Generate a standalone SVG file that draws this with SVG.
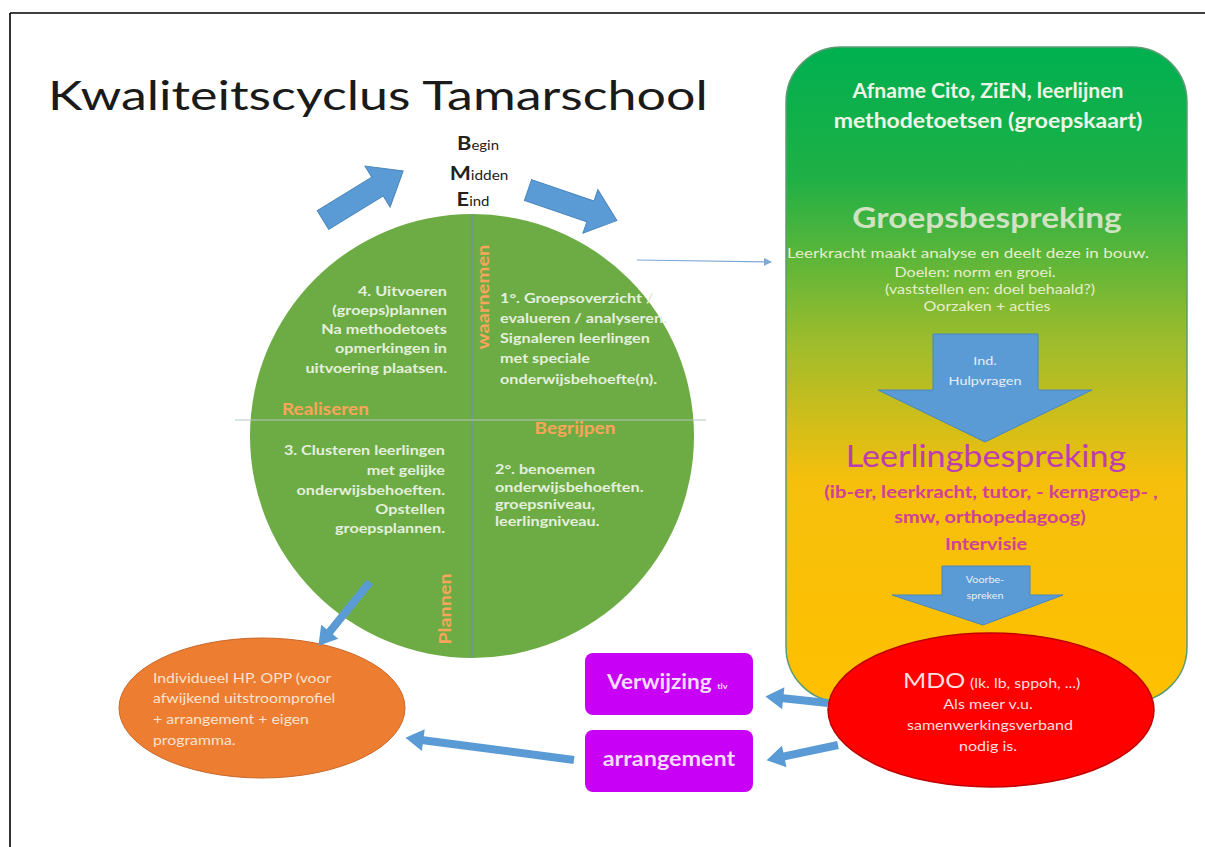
<svg xmlns="http://www.w3.org/2000/svg" width="1205" height="847" viewBox="0 0 1205 847">
<style>
text{font-family:Lato,"Open Sans","Liberation Sans",sans-serif}
.title{font-size:40px;fill:#1a1a1a}
.ct{font-size:13.5px;font-weight:700;fill:#e4f0dc}
.ql{font-size:16.5px;font-weight:700;fill:#f9a65a}
.blk{fill:#5b9bd5;stroke:#4a86bd;stroke-width:1}
.ar{fill:#5b9bd5}
.mid{text-anchor:middle}
.end{text-anchor:end}
.wh{fill:#eef5e6}
.pk{fill:#d0409a;font-size:17px;font-weight:700;text-anchor:middle}
.gb{fill:#e6efcc;font-size:14px;text-anchor:middle}
.mdo{fill:#ffdede;font-size:14px;text-anchor:middle}
.or{fill:#fbe3cf;font-size:14px}
.bt{fill:#e8eef8;text-anchor:middle}
</style>
<defs>
<linearGradient id="g1" x1="0" y1="0" x2="0" y2="1">
<stop offset="0" stop-color="#00b050"/>
<stop offset="0.2" stop-color="#1fb046"/>
<stop offset="0.45" stop-color="#9dbc2c"/>
<stop offset="0.66" stop-color="#f5bf0c"/>
<stop offset="1" stop-color="#ffc000"/>
</linearGradient>
<marker id="ah" markerWidth="8" markerHeight="8" refX="7" refY="4" orient="auto" markerUnits="userSpaceOnUse">
<path d="M0,0 L8,4 L0,8 z" fill="#7fa9d5"/>
</marker>
</defs>
<rect width="1205" height="847" fill="#ffffff"/>
<path d="M10,13 H1205 M10,13 V847" stroke="#000" stroke-width="1.6" fill="none"/>
<text class="title" transform="translate(48,110) scale(1.3,1)">Kwaliteitscyclus Tamarschool</text>

<g id="bme" fill="#222" font-size="13">
<text class="mid" transform="translate(478,150) scale(1.15,1)"><tspan font-size="19" font-weight="700">B</tspan>egin</text>
<text class="mid" transform="translate(479,180) scale(1.18,1)"><tspan font-size="19" font-weight="700">M</tspan>idden</text>
<text class="mid" transform="translate(473,206) scale(1.15,1)"><tspan font-size="19" font-weight="700">E</tspan>ind</text>
</g>

<g id="cycle">
<circle cx="472" cy="436" r="222" fill="#6dab45"/>
<line x1="472" y1="214" x2="472" y2="658" stroke="#6f9a86" stroke-width="2"/>
<line x1="235" y1="420" x2="706" y2="420" stroke="#b8c8c0" stroke-width="1.2"/>
<g class="ct end">
<text transform="translate(447,296) scale(1.2,1)">4. Uitvoeren</text>
<text transform="translate(447,315) scale(1.2,1)">(groeps)plannen</text>
<text transform="translate(447,334) scale(1.2,1)">Na methodetoets</text>
<text transform="translate(447,353) scale(1.2,1)">opmerkingen in</text>
<text transform="translate(447,373) scale(1.2,1)">uitvoering plaatsen.</text>
<text transform="translate(445,455) scale(1.2,1)">3. Clusteren leerlingen</text>
<text transform="translate(445,475) scale(1.2,1)">met gelijke</text>
<text transform="translate(445,495) scale(1.2,1)">onderwijsbehoeften.</text>
<text transform="translate(445,514) scale(1.2,1)">Opstellen</text>
<text transform="translate(445,533) scale(1.2,1)">groepsplannen.</text>
</g>
<g class="ct">
<text transform="translate(500,303) scale(1.2,1)">1°. Groepsoverzicht /</text>
<text transform="translate(500,323) scale(1.2,1)">evalueren / analyseren.</text>
<text transform="translate(500,343) scale(1.2,1)">Signaleren leerlingen</text>
<text transform="translate(500,363) scale(1.2,1)">met speciale</text>
<text transform="translate(500,384) scale(1.2,1)">onderwijsbehoefte(n).</text>
<text transform="translate(495,474) scale(1.2,1)">2°. benoemen</text>
<text transform="translate(495,492) scale(1.2,1)">onderwijsbehoeften.</text>
<text transform="translate(495,509) scale(1.2,1)">groepsniveau,</text>
<text transform="translate(495,526) scale(1.2,1)">leerlingniveau.</text>
</g>
<text class="ql" transform="translate(282,415) scale(1.15,1)">Realiseren</text>
<text class="ql mid" transform="translate(575,434) scale(1.15,1)">Begrijpen</text>
<text class="ql mid" transform="translate(489,297) rotate(-90) scale(1.22,1)">waarnemen</text>
<text class="ql mid" transform="translate(451,609) rotate(-90) scale(1.2,1)">Plannen</text>
</g>

<g id="process">
<rect x="786" y="47" width="401" height="655" rx="55" fill="url(#g1)" stroke="#5d9b73" stroke-width="1.5"/>
<text class="wh mid" transform="translate(988,98) scale(1.03,1)" font-size="20.5" font-weight="700">Afname Cito, ZiEN, leerlijnen</text>
<text class="wh mid" transform="translate(988,128) scale(1.12,1)" font-size="20.5" font-weight="700">methodetoetsen (groepskaart)</text>
<text class="mid" transform="translate(987,228) scale(1.15,1)" font-size="29" font-weight="700" fill="#cfe2c2">Groepsbespreking</text>
<text class="gb" transform="translate(968,258) scale(1.22,1)">Leerkracht maakt analyse en deelt deze in bouw.</text>
<text class="gb" transform="translate(975,277) scale(1.15,1)">Doelen: norm en groei.</text>
<text class="gb" transform="translate(990,294) scale(1.15,1)">(vaststellen en: doel behaald?)</text>
<text class="gb" transform="translate(987,311) scale(1.15,1)">Oorzaken + acties</text>
<polygon class="blk" points="933,334 1038,334 1038,390 1092,390 985,442 878,390 933,390"/>
<text class="bt" transform="translate(985,365) scale(1.2,1)" font-size="12">Ind.</text>
<text class="bt" transform="translate(985,385) scale(1.2,1)" font-size="12">Hulpvragen</text>
<text class="mid" transform="translate(986,467) scale(1.1,1)" font-size="31" fill="#bd3db0">Leerlingbespreking</text>
<text class="pk" transform="translate(991,498) scale(1.19,1)">(ib-er, leerkracht, tutor, - kerngroep- ,</text>
<text class="pk" transform="translate(990,523) scale(1.17,1)">smw, orthopedagoog)</text>
<text class="pk" transform="translate(986,550) scale(1.17,1)">Intervisie</text>
<polygon class="blk" points="942,566 1030,566 1030,595 1063,595 983,625 892,595 942,595"/>
<text class="bt" transform="translate(985,583) scale(1.2,1)" font-size="9">Voorbe-</text>
<text class="bt" transform="translate(985,599) scale(1.2,1)" font-size="9">spreken</text>
</g>

<g id="mdo">
<ellipse cx="991" cy="710" rx="163" ry="77" fill="#ff0000" stroke="#c00000" stroke-width="1.5"/>
<text transform="translate(903,688) scale(1.14,1)" font-size="22" fill="#ffdede">MDO<tspan font-size="14" dx="4">(lk. lb, sppoh, ...)</tspan></text>
<text class="mdo" transform="translate(988,709) scale(1.15,1)">Als meer v.u.</text>
<text class="mdo" transform="translate(990,730) scale(1.15,1)">samenwerkingsverband</text>
<text class="mdo" transform="translate(988,751) scale(1.15,1)">nodig is.</text>
</g>

<g id="verwijzing">
<rect x="585" y="653" width="168" height="62" rx="8" fill="#c800f5"/>
<text transform="translate(607,689) scale(1.13,1)" font-size="20" font-weight="700" fill="#f3dcff">Verwijzing <tspan font-size="8">tlv</tspan></text>
</g>
<g id="arrangement">
<rect x="585" y="730" width="168" height="62" rx="8" fill="#c800f5"/>
<text class="mid" transform="translate(669,766) scale(1.17,1)" font-size="20" font-weight="700" fill="#f3dcff">arrangement</text>
</g>

<g id="individueel">
<ellipse cx="262" cy="708" rx="143" ry="70" fill="#ed7d31" stroke="#c96a2c" stroke-width="1"/>
<text class="or" transform="translate(153,683) scale(1.13,1)">Individueel HP. OPP (voor</text>
<text class="or" transform="translate(153,703) scale(1.13,1)">afwijkend uitstroomprofiel</text>
<text class="or" transform="translate(153,724) scale(1.13,1)">+ arrangement + eigen</text>
<text class="or" transform="translate(153,745) scale(1.13,1)">programma.</text>
</g>

<g id="connectors">
<polygon class="blk" transform="translate(323,220) rotate(-31.5)" points="0,-11 64,-11 64,-24 94,0 64,24 64,11 0,11"/>
<polygon class="blk" transform="translate(528,190) rotate(19)" points="0,-11 66,-11 66,-23 94,0 66,23 66,11 0,11"/>
<line x1="637" y1="260" x2="771" y2="262" stroke="#7fa9d5" stroke-width="1.2" marker-end="url(#ah)"/>
<polygon class="ar" transform="translate(828,703) rotate(186)" points="0,-4 45,-4 45,-11 63,0 45,11 45,4 0,4"/>
<polygon class="ar" transform="translate(838,745) rotate(168)" points="0,-4 55,-4 55,-11 73,0 55,11 55,4 0,4"/>
<polygon class="ar" transform="translate(574,760) rotate(187.5)" points="0,-4 152,-4 152,-11 170,0 152,11 152,4 0,4"/>
<polygon class="ar" transform="translate(370,582) rotate(129)" points="0,-4 64,-4 64,-11 82,0 64,11 64,4 0,4"/>
</g>
</svg>
